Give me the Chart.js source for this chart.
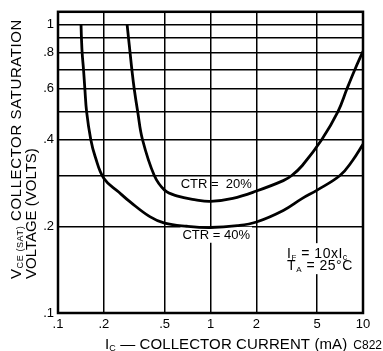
<!DOCTYPE html>
<html>
<head>
<meta charset="utf-8">
<script src="https://cdn.jsdelivr.net/npm/chart.js"></script>
<style>
    html, body { margin: 0; padding: 0; background: #fff; }
    #wrap { width: 383px; height: 351px; }
</style>
</head>
<body>
<div id="wrap"><canvas id="vceSat" width="383" height="351"></canvas></div>
<script>
// IC (mA) / VCE(SAT) (V)
const ctr20X = [0.284, 0.29, 0.297, 0.305, 0.316, 0.333, 0.358, 0.428, 0.5, 0.6, 0.8, 1.0, 1.4, 2.0, 3.0, 3.41, 4.0, 5.37, 6.85, 7.85, 8.85, 10];
const ctr20Y = [1.0, 0.9, 0.8, 0.7, 0.6, 0.5, 0.4, 0.3, 0.267, 0.255, 0.247, 0.244, 0.25, 0.265, 0.288, 0.3, 0.325, 0.4, 0.5, 0.6, 0.7, 0.81];
const ctr40X = [0.1416, 0.1425, 0.144, 0.147, 0.15, 0.154, 0.164, 0.175, 0.2, 0.25, 0.3, 0.4, 0.5, 0.7, 1.0, 1.5, 2.0, 3.0, 4.0, 5.0, 7.06, 8.5, 10];
const ctr40Y = [1.0, 0.9, 0.8, 0.7, 0.6, 0.5, 0.4, 0.35, 0.293, 0.263, 0.242, 0.216, 0.205, 0.2, 0.198, 0.201, 0.207, 0.227, 0.25, 0.267, 0.3, 0.337, 0.385];

const xTickValues = [0.1, 0.2, 0.5, 1, 2, 5, 10];
const xTickLabels = ['.1', '.2', '.5', '1', '2', '5', '10'];
const yTickValues = [0.1, 0.2, 0.3, 0.4, 0.5, 0.6, 0.7, 0.8, 0.9, 1];
const yTickLabels = ['.1', '.2', '', '.4', '', '.6', '', '.8', '', '1'];

const FONT = '"Liberation Sans", Arial, Helvetica, sans-serif';

function toPoints(xs, ys) {
    return xs.map((x, i) => ({ x: x, y: ys[i] }));
}

// text made of runs (for subscripts)
function richWidth(ctx, parts) {
    let w = 0;
    parts.forEach(p => {
        ctx.font = `${p.size}px ${FONT}`;
        w += ctx.measureText(p.text).width;
    });
    return w;
}
function drawRich(ctx, parts, x, y) {
    let cx = x;
    parts.forEach(p => {
        ctx.font = `${p.size}px ${FONT}`;
        ctx.fillText(p.text, cx, y + (p.dy || 0));
        cx += ctx.measureText(p.text).width;
    });
}

const paperPlugin = {
    id: 'paper',
    beforeDatasetsDraw(chart) {
        const ctx = chart.ctx;
        const a = chart.chartArea;
        const xs = chart.scales.x, ys = chart.scales.y;
        ctx.save();
        ctx.textBaseline = 'alphabetic';
        ctx.fillStyle = '#000';

        // curve labels
        const c20 = [{ text: 'CTR =  20%', size: 13 }];
        const cx = xs.getPixelForValue(1.09);
        drawRich(ctx, c20, cx - richWidth(ctx, c20) / 2, ys.getPixelForValue(0.272));

        const c40 = [{ text: 'CTR = 40%', size: 13 }];
        const w40 = richWidth(ctx, c40);
        const y40 = ys.getPixelForValue(0.181);
        ctx.fillStyle = '#fff';
        ctx.fillRect(cx - w40 / 2 - 2, y40 - 12, w40 + 4, 16);
        ctx.fillStyle = '#000';
        drawRich(ctx, c40, cx - w40 / 2, y40);

        // test conditions
        const nx = xs.getPixelForValue(3.18);
        const ny1 = ys.getPixelForValue(0.155);
        const ny2 = ys.getPixelForValue(0.141);
        ctx.fillStyle = '#fff';
        ctx.fillRect(nx - 3, ny1 - 15, 64, 31);
        ctx.fillStyle = '#000';
        ctx.letterSpacing = '0.5px';
        drawRich(ctx, [
            { text: 'I', size: 14 }, { text: 'F', size: 8, dy: 2 },
            { text: ' = 10xI', size: 14 }, { text: 'c', size: 9, dy: 2 }
        ], nx, ny1);
        drawRich(ctx, [
            { text: 'T', size: 14 }, { text: 'A', size: 8, dy: 2 },
            { text: ' = 25°C', size: 14 }
        ], nx, ny2);
        ctx.letterSpacing = '0px';

        // frame
        ctx.strokeStyle = '#000';
        ctx.lineWidth = 2.5;
        ctx.strokeRect(a.left, a.top, a.right - a.left, a.bottom - a.top);
        ctx.restore();
    },
    afterDraw(chart) {
        const ctx = chart.ctx;
        ctx.save();
        ctx.fillStyle = '#000';
        ctx.textBaseline = 'alphabetic';

        // y title, two lines rotated
        ctx.save();
        ctx.translate(21, 279);
        ctx.rotate(-Math.PI / 2);
        ctx.letterSpacing = '0.6px';
        drawRich(ctx, [
            { text: 'V', size: 15 }, { text: 'CE (SAT)', size: 9, dy: 2 },
            { text: ' COLLECTOR SATURATION', size: 15 }
        ], 0, 0);
        ctx.restore();
        ctx.save();
        ctx.translate(36, 279);
        ctx.rotate(-Math.PI / 2);
        drawRich(ctx, [{ text: 'VOLTAGE (VOLTS)', size: 15 }], 0, 0);
        ctx.restore();

        // x title
        ctx.save();
        ctx.letterSpacing = '0.1px';
        drawRich(ctx, [
            { text: 'I', size: 15 }, { text: 'C', size: 9, dy: 2 },
            { text: ' \u2014 COLLECTOR CURRENT (mA)', size: 15 }
        ], 105, 349);
        ctx.restore();
        ctx.textAlign = 'right';
        ctx.font = `12px ${FONT}`;
        ctx.fillText('C822', 382, 349);
        ctx.restore();
    }
};

const curveStyle = {
    borderColor: '#000',
    borderWidth: 2.8,
    pointRadius: 0,
    fill: false,
    tension: 0.4
};

new Chart(document.getElementById('vceSat').getContext('2d'), {
    type: 'line',
    data: {
        datasets: [
            Object.assign({ label: 'CTR = 20%', data: toPoints(ctr20X, ctr20Y) }, curveStyle),
            Object.assign({ label: 'CTR = 40%', data: toPoints(ctr40X, ctr40Y) }, curveStyle)
        ]
    },
    options: {
        responsive: false,
        animation: false,
        layout: { padding: { top: 11, right: 20, left: 0, bottom: 0 } },
        plugins: {
            legend: { display: false },
            tooltip: { enabled: false }
        },
        scales: {
            x: {
                type: 'logarithmic',
                min: 0.1,
                max: 10,
                afterBuildTicks: s => { s.ticks = xTickValues.map(v => ({ value: v })); },
                afterFit: s => { s.height = 38; },
                ticks: {
                    callback: (v, i) => xTickLabels[i],
                    autoSkip: false,
                    maxRotation: 0,
                    padding: 4,
                    color: '#000',
                    font: { family: FONT, size: 13 }
                },
                grid: { color: '#000', lineWidth: 1.5, drawTicks: false },
                border: { display: false }
            },
            y: {
                type: 'logarithmic',
                min: 0.1,
                max: 1.11,
                afterBuildTicks: s => { s.ticks = yTickValues.map(v => ({ value: v })); },
                afterFit: s => { s.width = 58; },
                ticks: {
                    callback: (v, i) => yTickLabels[i],
                    autoSkip: false,
                    padding: 4,
                    color: '#000',
                    font: { family: FONT, size: 13 }
                },
                grid: { color: '#000', lineWidth: 1.5, drawTicks: false },
                border: { display: false }
            }
        }
    },
    plugins: [paperPlugin]
});
</script>
</body>
</html>
